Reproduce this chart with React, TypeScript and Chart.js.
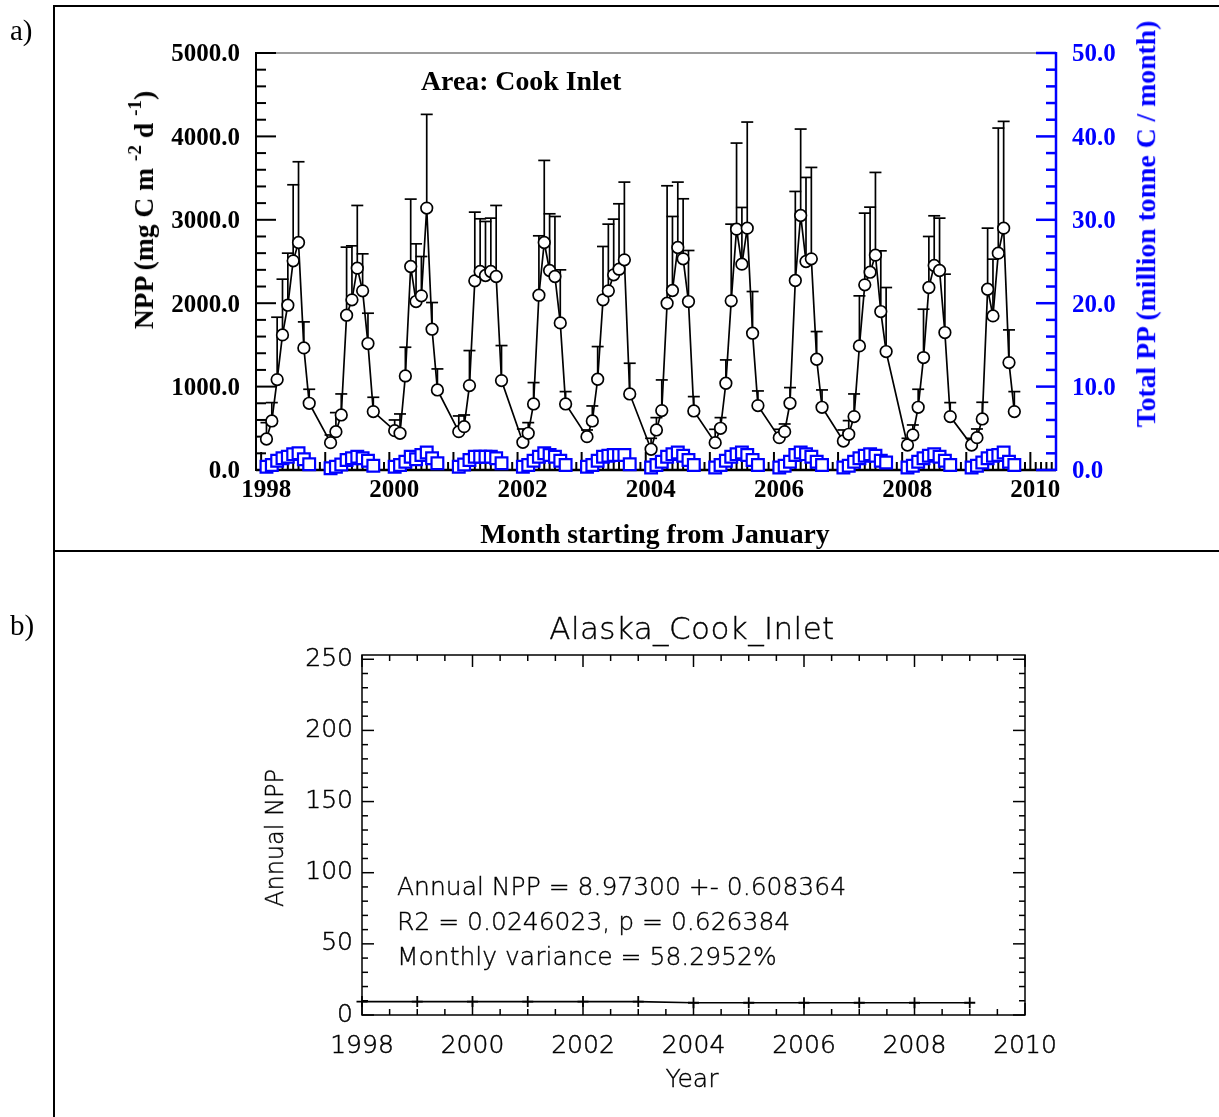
import React, { useEffect, useRef } from "react";
import { Chart, registerables } from "chart.js";

Chart.register(...registerables);

// ---------------- Data (panel a) ----------------
const years = [1998, 1999, 2000, 2001, 2002, 2003, 2004, 2005, 2006, 2007, 2008, 2009];
const monthsOfYear = [2, 3, 4, 5, 6, 7, 8, 9, 10];

// Monthly NPP (mg C m-2 d-1), Feb..Oct of each year
const nppMonthly = [
  372, 588, 1084, 1620, 1976, 2508, 2728, 1464, 800,
  328, 460, 660, 1856, 2040, 2420, 2148, 1516, 700,
  472, 440, 1128, 2440, 2020, 2088, 3140, 1688, 960,
  460, 520, 1012, 2268, 2380, 2332, 2380, 2320, 1072,
  332, 440, 792, 2096, 2728, 2392, 2320, 1764, 792,
  400, 588, 1088, 2040, 2148, 2340, 2408, 2520, 912,
  248, 480, 712, 2000, 2152, 2668, 2532, 2020, 708,
  328, 500, 1040, 2028, 2888, 2468, 2900, 1640, 772,
  388, 460, 800, 2272, 3052, 2500, 2532, 1328, 752,
  348, 428, 640, 1488, 2220, 2372, 2576, 1900, 1420,
  300, 420, 752, 1348, 2188, 2452, 2392, 1648, 640,
  300, 388, 612, 2168, 1848, 2600, 2900, 1288, 700,
];

// Upper end of the error bar for each month
const nppUpper = [
  568, 808, 1832, 2288, 2600, 3420, 3696, 1776, 968,
  420, 688, 912, 2672, 2688, 3172, 2592, 1880, 872,
  600, 672, 1472, 3248, 2712, 2560, 4264, 2008, 1212,
  648, 660, 1432, 3092, 3012, 2980, 3020, 3172, 1492,
  492, 568, 1048, 2808, 3712, 3072, 3040, 2400, 940,
  480, 768, 1480, 2680, 2948, 3008, 3192, 3452, 1280,
  380, 628, 1080, 3408, 3040, 3452, 3252, 2632, 880,
  488, 628, 1320, 2948, 3920, 3148, 4172, 2140, 948,
  488, 552, 988, 3340, 4088, 3508, 3628, 1660, 960,
  480, 592, 912, 2088, 3080, 3152, 3568, 2628, 2188,
  380, 540, 968, 1928, 2800, 3048, 3020, 2348, 808,
  380, 492, 812, 2900, 2528, 4100, 4180, 1680, 940,
];

// Total PP (million tonne C / month)
const totalPP = [
  0.4, 0.6, 1.1, 1.4, 1.6, 1.9, 2.0, 1.3, 0.7,
  0.2, 0.4, 0.65, 1.2, 1.4, 1.6, 1.4, 1.1, 0.5,
  0.4, 0.6, 1.0, 1.6, 1.3, 1.8, 2.1, 1.4, 0.8,
  0.4, 0.65, 1.2, 1.6, 1.6, 1.6, 1.6, 1.4, 0.8,
  0.4, 0.6, 1.1, 1.6, 2.0, 1.8, 1.6, 1.1, 0.6,
  0.4, 0.6, 1.1, 1.6, 1.7, 1.8, 1.8, 1.8, 0.7,
  0.3, 0.6, 1.0, 1.6, 1.9, 2.1, 1.7, 1.2, 0.6,
  0.3, 0.6, 1.1, 1.6, 1.9, 2.1, 1.8, 1.2, 0.6,
  0.3, 0.5, 1.0, 1.8, 2.1, 1.9, 1.6, 1.0, 0.6,
  0.3, 0.5, 1.0, 1.4, 1.7, 1.9, 1.7, 1.1, 0.9,
  0.3, 0.5, 1.0, 1.4, 1.7, 1.9, 1.6, 1.1, 0.6,
  0.3, 0.5, 0.9, 1.4, 1.7, 1.8, 2.1, 1.0, 0.6,
];

const xTickYearsA = [1998, 2000, 2002, 2004, 2006, 2008, 2010];
const leftTickValues = [0, 1000, 2000, 3000, 4000, 5000];
const rightTickValues = [0, 10, 20, 30, 40, 50];

// ---------------- Data (panel b) ----------------
const annualYears = [1998, 1999, 2000, 2001, 2002, 2003, 2004, 2005, 2006, 2007, 2008, 2009];
const annualNpp = [9.4, 9.4, 9.4, 9.4, 9.4, 9.4, 8.6, 8.6, 8.6, 8.6, 8.6, 8.6];
const xTickYearsB = [1998, 2000, 2002, 2004, 2006, 2008, 2010];
const yTickValuesB = [0, 50, 100, 150, 200, 250];
const statLines = [
  "Annual NPP = 8.97300 +- 0.608364",
  "R2 = 0.0246023, p = 0.626384",
  "Monthly variance = 58.2952%",
];

// ---------------- Derived ----------------
const monthX: number[] = [];
years.forEach((yr) => monthsOfYear.forEach((m) => monthX.push(yr + (m - 1) / 12)));
const nppPoints = monthX.map((x, i) => ({ x, y: nppMonthly[i] }));
const ppPoints = monthX.map((x, i) => ({ x, y: totalPP[i] }));
const annualPoints = annualYears.map((x, i) => ({ x, y: annualNpp[i] }));

const serif = "Liberation Serif";
const sans = "DejaVu Sans";

function seg(ctx: CanvasRenderingContext2D, x1: number, y1: number, x2: number, y2: number) {
  ctx.beginPath();
  ctx.moveTo(x1, y1);
  ctx.lineTo(x2, y2);
  ctx.stroke();
}

const axesAPlugin = {
  id: "axesA",
  beforeDatasetsDraw(chart: any) {
    const { ctx, chartArea } = chart;
    const { left, right, top, bottom } = chartArea;
    const { x, y, y2 } = chart.scales;
    ctx.save();
    ctx.lineCap = "butt";
    // top frame (gray)
    ctx.strokeStyle = "#7a7a7a";
    ctx.lineWidth = 1.3;
    seg(ctx, left, top, right, top);
    // left axis
    ctx.strokeStyle = "#000";
    ctx.lineWidth = 2;
    seg(ctx, left, top - 1, left, bottom + 1);
    for (let v = 0; v <= 5000; v += 200) {
      const py = y.getPixelForValue(v);
      seg(ctx, left, py, left + (v % 1000 === 0 ? 20 : 10), py);
    }
    // bottom axis
    ctx.lineWidth = 2.4;
    seg(ctx, left, bottom, right, bottom);
    ctx.lineWidth = 2;
    for (let yr = 1997; yr <= 2010; yr++) {
      for (let m = 0; m < 12; m++) {
        const v = yr + m / 12;
        if (v < x.min || v > x.max) continue;
        const px = x.getPixelForValue(v);
        seg(ctx, px, bottom, px, bottom - (m === 0 ? 18 : 8));
      }
    }
    // right axis (blue)
    ctx.strokeStyle = "#0000ff";
    ctx.lineWidth = 2.5;
    seg(ctx, right, top - 1, right, bottom + 1);
    for (let v = 0; v <= 50; v += 2) {
      const py = y2.getPixelForValue(v);
      seg(ctx, right, py, right - (v % 10 === 0 ? 20 : 10), py);
    }
    // error bars (upper only)
    ctx.strokeStyle = "#000";
    ctx.lineWidth = 1.7;
    monthX.forEach((xv, i) => {
      const px = x.getPixelForValue(xv);
      const p0 = y.getPixelForValue(nppMonthly[i]);
      const p1 = y.getPixelForValue(nppUpper[i]);
      seg(ctx, px, p0, px, p1);
      seg(ctx, px - 6, p1, px + 6, p1);
    });
    ctx.restore();
  },
};

const axesBPlugin = {
  id: "axesB",
  beforeDatasetsDraw(chart: any) {
    const { ctx, chartArea } = chart;
    const { left, right, top, bottom } = chartArea;
    const { x, y } = chart.scales;
    ctx.save();
    ctx.strokeStyle = "#000";
    ctx.lineWidth = 1.5;
    ctx.strokeRect(left, top, right - left, bottom - top);
    for (let v = 0; v <= 250; v += 10) {
      const py = y.getPixelForValue(v);
      const len = v % 50 === 0 ? 12 : 6;
      seg(ctx, left, py, left + len, py);
      seg(ctx, right, py, right - len, py);
    }
    for (let k = 0; k <= 24; k++) {
      const v = 1998 + k * 0.5;
      const px = x.getPixelForValue(v);
      const len = k % 4 === 0 ? 12 : 6;
      seg(ctx, px, bottom, px, bottom - len);
      seg(ctx, px, top, px, top + len);
    }
    ctx.restore();
  },
};

function ChartA() {
  const ref = useRef<HTMLCanvasElement>(null);
  useEffect(() => {
    const chart = new Chart(ref.current as HTMLCanvasElement, {
      type: "line",
      data: {
        datasets: [
          {
            label: "Total PP",
            data: ppPoints,
            yAxisID: "y2",
            showLine: false,
            pointStyle: "rect",
            pointRadius: 8.3,
            pointBackgroundColor: "#ffffff",
            pointBorderColor: "#0000ff",
            pointBorderWidth: 2.2,
            clip: false,
          } as any,
          {
            label: "NPP",
            data: nppPoints,
            yAxisID: "y",
            borderColor: "#000000",
            borderWidth: 1.7,
            tension: 0,
            pointStyle: "circle",
            pointRadius: 5.8,
            pointBackgroundColor: "#ffffff",
            pointBorderColor: "#000000",
            pointBorderWidth: 1.7,
            clip: false,
          } as any,
        ],
      },
      options: {
        animation: false,
        responsive: false,
        events: [],
        layout: { padding: { top: 53, left: 0, right: 0, bottom: 0 } },
        plugins: { legend: { display: false }, tooltip: { enabled: false }, title: { display: false } },
        scales: {
          x: {
            type: "linear",
            min: 1997.92,
            max: 2010.4,
            grid: { display: false, drawTicks: false },
            border: { display: false },
            afterBuildTicks: (s: any) => {
              s.ticks = xTickYearsA.map((v) => ({ value: v }));
            },
            afterFit: (s: any) => {
              s.height = 81;
            },
            ticks: {
              autoSkip: false,
              maxRotation: 0,
              padding: 6,
              labelOffset: 5,
              color: "#000",
              font: { family: serif, weight: "bold", size: 25 },
              callback: (v: any) => String(v),
            },
          },
          y: {
            type: "linear",
            position: "left",
            min: 0,
            max: 5000,
            grid: { display: false, drawTicks: false },
            border: { display: false },
            afterBuildTicks: (s: any) => {
              s.ticks = leftTickValues.map((v) => ({ value: v }));
            },
            afterFit: (s: any) => {
              s.width = 256;
            },
            ticks: {
              padding: 16,
              labelOffset: 2,
              color: "#000",
              font: { family: serif, weight: "bold", size: 25 },
              callback: (v: any) => Number(v).toFixed(1),
            },
          },
          y2: {
            type: "linear",
            position: "right",
            min: 0,
            max: 50,
            grid: { display: false, drawTicks: false },
            border: { display: false },
            afterBuildTicks: (s: any) => {
              s.ticks = rightTickValues.map((v) => ({ value: v }));
            },
            afterFit: (s: any) => {
              s.width = 163;
            },
            ticks: {
              padding: 16,
              labelOffset: 2,
              color: "#0000ff",
              font: { family: serif, weight: "bold", size: 25 },
              callback: (v: any) => Number(v).toFixed(1),
            },
          },
        },
      } as any,
      plugins: [axesAPlugin],
    });
    return () => chart.destroy();
  }, []);
  return (
    <canvas
      ref={ref}
      width={1219}
      height={551}
      style={{ position: "absolute", left: 0, top: 0, width: 1219, height: 551 }}
    />
  );
}

function ChartB() {
  const ref = useRef<HTMLCanvasElement>(null);
  useEffect(() => {
    const chart = new Chart(ref.current as HTMLCanvasElement, {
      type: "line",
      data: {
        datasets: [
          {
            label: "Annual NPP",
            data: annualPoints,
            borderColor: "#000000",
            borderWidth: 1.6,
            tension: 0,
            pointStyle: "cross",
            pointRadius: 5.5,
            pointBorderColor: "#000000",
            pointBorderWidth: 1.8,
            clip: false,
          } as any,
        ],
      },
      options: {
        animation: false,
        responsive: false,
        events: [],
        layout: { padding: { top: 104, left: 0, right: 194, bottom: 0 } },
        plugins: { legend: { display: false }, tooltip: { enabled: false }, title: { display: false } },
        scales: {
          x: {
            type: "linear",
            min: 1998,
            max: 2010,
            grid: { display: false, drawTicks: false },
            border: { display: false },
            afterBuildTicks: (s: any) => {
              s.ticks = xTickYearsB.map((v) => ({ value: v }));
            },
            afterFit: (s: any) => {
              s.height = 102;
            },
            ticks: {
              autoSkip: false,
              maxRotation: 0,
              padding: 16,
              color: "#000",
              textStrokeColor: "#000",
              textStrokeWidth: 0.5,
              font: { family: sans, weight: 200, size: 25 },
              callback: (v: any) => String(v),
            },
          },
          y: {
            type: "linear",
            position: "left",
            min: 0,
            max: 253,
            grid: { display: false, drawTicks: false },
            border: { display: false },
            afterBuildTicks: (s: any) => {
              s.ticks = yTickValuesB.map((v) => ({ value: v }));
            },
            afterFit: (s: any) => {
              s.width = 362;
            },
            ticks: {
              padding: 9,
              color: "#000",
              textStrokeColor: "#000",
              textStrokeWidth: 0.5,
              font: { family: sans, weight: 200, size: 25 },
              callback: (v: any) => String(v),
            },
          },
        },
      } as any,
      plugins: [axesBPlugin],
    });
    return () => chart.destroy();
  }, []);
  return (
    <canvas
      ref={ref}
      width={1219}
      height={566}
      style={{ position: "absolute", left: 0, top: 551, width: 1219, height: 566 }}
    />
  );
}

const abs = (extra: React.CSSProperties): React.CSSProperties => ({
  position: "absolute",
  whiteSpace: "nowrap",
  lineHeight: 1,
  ...extra,
});

export default function App() {
  const boldSerif = { fontFamily: serif, fontWeight: 700 } as React.CSSProperties;
  const thinSans = {
    fontFamily: sans,
    fontWeight: 200,
    color: "#000",
    WebkitTextStroke: "0.35px #000",
  } as React.CSSProperties;
  const sup = { fontSize: "0.7em", verticalAlign: "0.6em" } as React.CSSProperties;
  return (
    <div style={{ position: "absolute", left: 0, top: 0, width: 1219, height: 1117, background: "#fff", overflow: "hidden" }}>
      <ChartA />
      <ChartB />
      {/* panel frames */}
      <div style={{ position: "absolute", left: 53, top: 5, width: 1166, height: 2, background: "#000" }} />
      <div style={{ position: "absolute", left: 53, top: 5, width: 2, height: 1112, background: "#000" }} />
      <div style={{ position: "absolute", left: 53, top: 550, width: 1166, height: 2, background: "#000" }} />
      {/* panel letters */}
      <div style={abs({ left: 10, top: 16, fontFamily: serif, fontSize: 29, color: "#000" })}>a)</div>
      <div style={abs({ left: 10, top: 611, fontFamily: serif, fontSize: 29, color: "#000" })}>b)</div>
      {/* panel a texts */}
      <div style={abs({ left: 421, top: 81, transform: "translate(0,-50%)", fontSize: 27.8, ...boldSerif })}>
        Area: Cook Inlet
      </div>
      <div style={abs({ left: 655, top: 534, transform: "translate(-50%,-50%)", fontSize: 27.7, ...boldSerif })}>
        Month starting from January
      </div>
      <div
        style={abs({
          left: 141,
          top: 210,
          transform: "translate(-50%,-50%) rotate(-90deg)",
          fontSize: 27.5,
          ...boldSerif,
        })}
      >
        NPP (mg C m <sup style={sup}>-2</sup> d <sup style={sup}>-1</sup>)
      </div>
      <div
        style={abs({
          left: 1146,
          top: 224,
          transform: "translate(-50%,-50%) rotate(-90deg)",
          fontSize: 27.7,
          color: "#0000ff",
          ...boldSerif,
        })}
      >
        Total PP (million tonne C / month)
      </div>
      {/* panel b texts */}
      <div
        style={abs({
          left: 692,
          top: 628,
          transform: "translate(-50%,-50%)",
          fontSize: 31,
          letterSpacing: 0.4,
          ...thinSans,
        })}
      >
        Alaska_Cook_Inlet
      </div>
      <div
        style={abs({
          left: 275,
          top: 838,
          transform: "translate(-50%,-50%) rotate(-90deg)",
          fontSize: 24,
          ...thinSans,
        })}
      >
        Annual NPP
      </div>
      <div style={abs({ left: 692, top: 1078, transform: "translate(-50%,-50%)", fontSize: 25, ...thinSans })}>
        Year
      </div>
      {statLines.map((t, i) => (
        <div
          key={i}
          style={abs({ left: 397, top: 886 + i * 35, transform: "translate(0,-50%)", fontSize: 25, ...thinSans })}
        >
          {t}
        </div>
      ))}
    </div>
  );
}
